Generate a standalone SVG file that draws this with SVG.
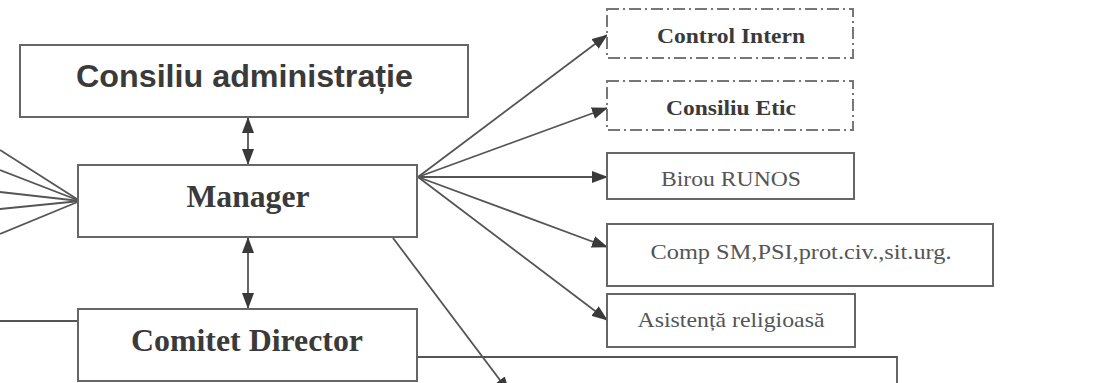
<svg xmlns="http://www.w3.org/2000/svg" width="1100" height="383" viewBox="0 0 1100 383">
<style>
.box{fill:#fff;stroke:#666;stroke-width:2}
.dd{fill:#fff;stroke:#777;stroke-width:2;stroke-dasharray:12 4 2 4}
.ln{fill:none;stroke:#555;stroke-width:1.8}
.sans{font-family:"Liberation Sans",Arial,sans-serif;font-weight:bold;fill:#3a3a3a}
.serb{font-family:"Liberation Serif","Times New Roman",serif;font-weight:bold;fill:#3a3a3a}
.ser{font-family:"Liberation Serif","Times New Roman",serif;fill:#555}
</style>
<defs>
<marker id="ah" markerUnits="userSpaceOnUse" markerWidth="16" markerHeight="12" viewBox="0 0 16 12" refX="15" refY="6" orient="auto-start-reverse">
<path d="M0,0 L16,6 L0,12 z" fill="#3a3a3a"/>
</marker>
</defs>
<rect width="1100" height="383" fill="#fff"/>
<g id="connectors">
<line class="ln" x1="248" y1="118" x2="248" y2="164" marker-start="url(#ah)" marker-end="url(#ah)"/>
<line class="ln" x1="248" y1="238" x2="248" y2="308" marker-start="url(#ah)" marker-end="url(#ah)"/>
<line class="ln" x1="418" y1="177" x2="607" y2="35" marker-end="url(#ah)"/>
<line class="ln" x1="418" y1="177" x2="607" y2="108" marker-end="url(#ah)"/>
<line class="ln" x1="418" y1="177" x2="607" y2="177" marker-end="url(#ah)"/>
<line class="ln" x1="418" y1="177" x2="607" y2="247" marker-end="url(#ah)"/>
<line class="ln" x1="418" y1="177" x2="607" y2="320" marker-end="url(#ah)"/>
<line class="ln" x1="0" y1="150" x2="80" y2="201"/>
<line class="ln" x1="0" y1="170" x2="80" y2="201"/>
<line class="ln" x1="0" y1="192" x2="80" y2="201"/>
<line class="ln" x1="0" y1="209" x2="80" y2="201"/>
<line class="ln" x1="0" y1="234" x2="80" y2="201"/>
<line class="ln" x1="0" y1="321" x2="78" y2="321"/>
<line class="ln" x1="393" y1="238" x2="509" y2="392" marker-end="url(#ah)"/>
<polyline class="ln" points="417,357 897,357 897,390"/>
</g>
<g id="consiliu-admin">
<rect class="box" x="20" y="45" width="448" height="72"/>
<text class="sans" x="244.5" y="87" font-size="31" text-anchor="middle" textLength="337" lengthAdjust="spacingAndGlyphs">Consiliu administrație</text>
</g>
<g id="manager">
<rect class="box" x="78" y="165" width="339" height="72"/>
<text class="serb" x="248" y="207" font-size="31" text-anchor="middle" textLength="123" lengthAdjust="spacingAndGlyphs">Manager</text>
</g>
<g id="comitet-director">
<rect class="box" x="78" y="309" width="339" height="72"/>
<text class="serb" x="247" y="351" font-size="31" text-anchor="middle" textLength="232" lengthAdjust="spacingAndGlyphs">Comitet Director</text>
</g>
<g id="control-intern">
<rect class="dd" x="607" y="9" width="246" height="49"/>
<text class="serb" x="731" y="43" font-size="22" text-anchor="middle" textLength="148" lengthAdjust="spacingAndGlyphs">Control Intern</text>
</g>
<g id="consiliu-etic">
<rect class="dd" x="607" y="81" width="246" height="49"/>
<text class="serb" x="731" y="115" font-size="22" text-anchor="middle" textLength="130" lengthAdjust="spacingAndGlyphs">Consiliu Etic</text>
</g>
<g id="birou-runos">
<rect class="box" x="607" y="153" width="247" height="46"/>
<text class="ser" x="731" y="186" font-size="22" text-anchor="middle" textLength="140" lengthAdjust="spacingAndGlyphs">Birou RUNOS</text>
</g>
<g id="comp-sm">
<rect class="box" x="607" y="224" width="386" height="62"/>
<text class="ser" x="801" y="259" font-size="22" text-anchor="middle" textLength="301" lengthAdjust="spacingAndGlyphs">Comp SM,PSI,prot.civ.,sit.urg.</text>
</g>
<g id="asistenta">
<rect class="box" x="607" y="294" width="248" height="53"/>
<text class="ser" x="731" y="327" font-size="22" text-anchor="middle" textLength="187" lengthAdjust="spacingAndGlyphs">Asistență religioasă</text>
</g>
</svg>
